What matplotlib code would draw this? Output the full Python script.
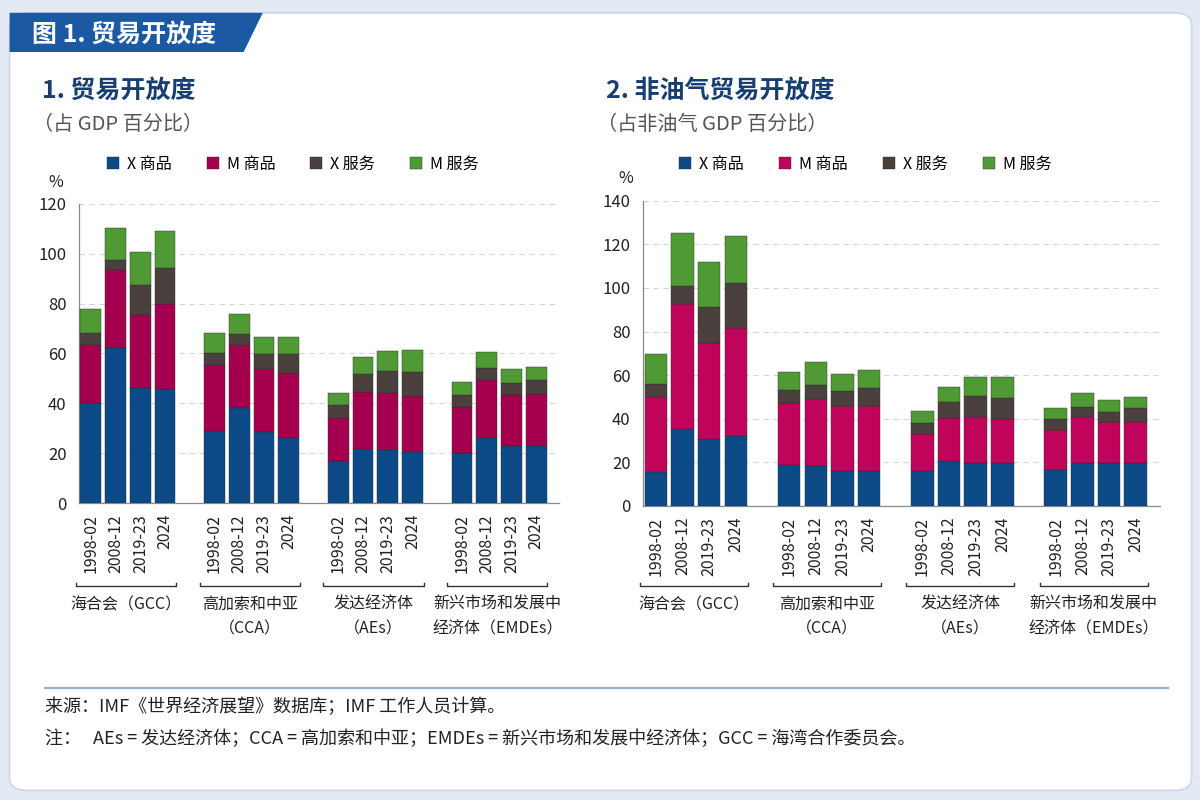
import matplotlib
matplotlib.use("Agg")
import matplotlib.pyplot as plt
import numpy as np
from matplotlib.patches import FancyBboxPatch, Polygon
from matplotlib.transforms import blended_transform_factory

plt.rcParams['font.family'] = ['Noto Sans CJK SC', 'DejaVu Sans']

# 数据
periods = ["1998-02", "2008-12", "2019-23", "2024"]
groups = ["海合会（GCC）", "高加索和中亚\n（CCA）", "发达经济体\n（AEs）", "新兴市场和发展中\n经济体（EMDEs）"]
series = ["X 商品", "M 商品", "X 服务", "M 服务"]

# 图1：贸易开放度（占GDP百分比）
p1_x_goods = [40.0, 62.1, 46.2, 45.8, 28.8, 38.0, 28.5, 26.2, 16.7, 21.7, 21.1, 20.6, 19.9, 26.2, 22.7, 22.7]
p1_m_goods = [23.5, 31.4, 29.3, 34.2, 26.7, 25.6, 25.4, 26.1, 17.4, 22.9, 22.9, 22.2, 18.6, 23.2, 20.7, 20.9]
p1_x_serv = [4.6, 4.2, 11.8, 14.2, 4.9, 4.1, 5.8, 7.3, 5.3, 7.3, 9.1, 9.9, 4.7, 4.7, 4.8, 5.6]
p1_m_serv = [9.7, 12.6, 13.6, 14.8, 7.9, 8.3, 6.8, 6.9, 4.9, 6.6, 8.1, 8.7, 5.2, 6.7, 5.7, 5.5]

# 图2：非油气贸易开放度（占非油气GDP百分比）
p2_x_goods = [15.6, 35.1, 30.7, 31.9, 18.7, 18.1, 16.1, 16.1, 16.0, 20.3, 19.7, 19.5, 16.3, 19.7, 19.7, 19.7]
p2_m_goods = [34.1, 57.5, 44.0, 49.7, 28.3, 30.7, 29.6, 29.6, 16.7, 19.8, 21.2, 20.2, 18.4, 20.9, 18.9, 18.9]
p2_x_serv = [6.4, 8.3, 16.6, 20.8, 6.0, 6.5, 6.9, 8.3, 5.3, 7.5, 9.3, 9.9, 5.1, 4.8, 4.5, 6.1]
p2_m_serv = [13.7, 24.4, 20.7, 21.5, 8.5, 10.7, 7.9, 8.3, 5.4, 7.1, 8.7, 9.6, 5.1, 6.5, 5.4, 5.3]

colors1 = ['#0b4a86', '#a4004f', '#4a403d', '#4f9a35']
colors2 = ['#0b4a86', '#c0045c', '#4a403d', '#4f9a35']

fig = plt.figure(figsize=(12, 8), dpi=100)
fig.patch.set_facecolor('#e3eaf3')

# 白色卡片背景
card = FancyBboxPatch((0.008, 0.012), 0.985, 0.972, boxstyle="round,pad=0,rounding_size=0.015",
                      transform=fig.transFigure, facecolor='white', edgecolor='#c9d8ea', linewidth=1.2, zorder=-10)
fig.patches.append(card)
tab = Polygon([[0.008, 0.984], [0.219, 0.984], [0.203, 0.935], [0.008, 0.935]], closed=True,
              transform=fig.transFigure, facecolor='#1b5aa3', edgecolor='none', zorder=-9)
fig.patches.append(tab)
fig.text(0.027, 0.956, "图 1. 贸易开放度", color='white', fontsize=18, fontweight='bold', va='center', ha='left')


def draw_panel(rect, vals, colors, ymax, ystep, title, subtitle, leg_anchor, pct_x):
    ax = fig.add_axes(rect)
    ax.set_facecolor('none')
    n_per = len(periods)
    x = np.array([g * (n_per + 1) + i for g in range(len(groups)) for i in range(n_per)], dtype=float)
    bottom = np.zeros(len(x))
    handles = []
    for v, c, name in zip(vals, colors, series):
        b = ax.bar(x, v, width=0.84, bottom=bottom, color=c, edgecolor='#2d2d2d', linewidth=0.3, label=name, zorder=3)
        handles.append(b)
        bottom += np.array(v)
    ax.set_xlim(-0.48, x[-1] + 0.92)
    ax.set_ylim(0, ymax)
    ax.set_yticks(np.arange(0, ymax + 1, ystep))
    ax.set_xticks(x)
    ax.set_xticklabels(periods * len(groups), rotation=90, fontsize=11.5, color='#222222')
    ax.tick_params(axis='both', length=0, labelsize=12, colors='#222222')
    ax.tick_params(axis='x', pad=8, labelsize=11.5)
    ax.tick_params(axis='y', pad=9)
    ax.grid(axis='y', color='#d6d6d6', linestyle=(0, (5, 4)), linewidth=0.8, zorder=0)
    for s in ['top', 'right']:
        ax.spines[s].set_visible(False)
    for s in ['left', 'bottom']:
        ax.spines[s].set_color('#8a8a8a')
        ax.spines[s].set_linewidth(0.9)

    # 分组括号与标签
    tr = blended_transform_factory(ax.transData, fig.transFigure)
    for g, name in enumerate(groups):
        x0 = g * (n_per + 1) - 0.6
        x1 = g * (n_per + 1) + 3.45
        ax.plot([x0, x0, x1, x1], [0.2715, 0.2675, 0.2675, 0.2715], color='#333333', linewidth=1.0,
                transform=tr, clip_on=False)
        ax.text((x0 + x1) / 2, 0.255, name, transform=tr, ha='center', va='top', fontsize=11.5,
                color='#222222', linespacing=1.6)

    ax.text(pct_x, 1.045, "%", transform=ax.transAxes, ha='right', va='bottom', fontsize=11.5, color='#222222')
    ax.legend(handles=handles, loc='center left', bbox_to_anchor=leg_anchor, bbox_transform=fig.transFigure,
              ncol=4, frameon=False, fontsize=11.5, handlelength=0.75, handleheight=0.75, handletextpad=0.5,
              columnspacing=2.2)
    fig.text(rect[0] - 0.031, 0.887, title, fontsize=18, fontweight='bold', color='#173e73', va='center')
    fig.text(rect[0] - 0.038, 0.845, subtitle, fontsize=14.5, color='#555555', va='center')
    return ax


draw_panel([0.0658, 0.37125, 0.40, 0.37375], [p1_x_goods, p1_m_goods, p1_x_serv, p1_m_serv], colors1,
           120, 20, "1. 贸易开放度", "（占 GDP 百分比）", (0.077, 0.795), -0.033)
draw_panel([0.5358, 0.3679, 0.431, 0.381], [p2_x_goods, p2_m_goods, p2_x_serv, p2_m_serv], colors2,
           140, 20, "2. 非油气贸易开放度", "（占非油气 GDP 百分比）", (0.554, 0.795), -0.019)

# 底部分隔线与注释
fig.add_artist(plt.Line2D([0.0375, 0.973], [0.14, 0.14], color='#8fb0cf', linewidth=1.6, transform=fig.transFigure))
fig.text(0.0375, 0.117, "来源：IMF《世界经济展望》数据库；IMF 工作人员计算。", fontsize=13, color='#222222', va='center')
fig.text(0.0375, 0.076, "注：   AEs = 发达经济体；CCA = 高加索和中亚；EMDEs = 新兴市场和发展中经济体；GCC = 海湾合作委员会。",
         fontsize=13, color='#222222', va='center')

plt.savefig("out.png", dpi=100, facecolor=fig.get_facecolor())
